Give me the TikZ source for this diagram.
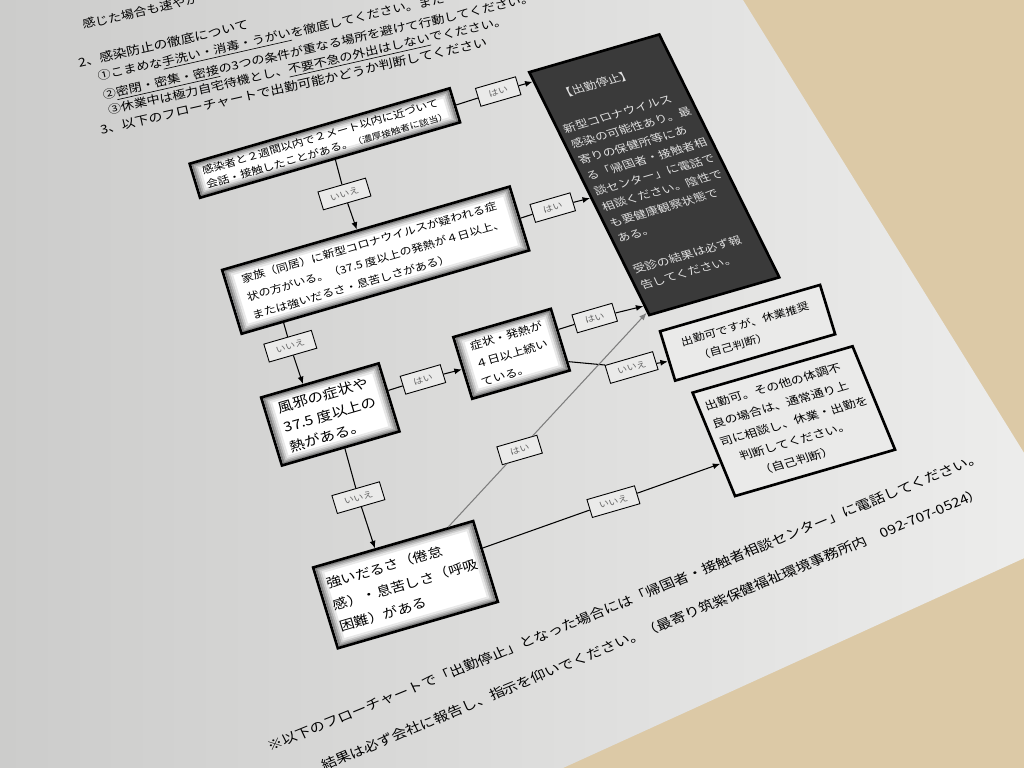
\documentclass[tikz,border=0pt]{standalone}
\usepackage{fontspec}
\setmainfont{Noto Sans CJK JP}
\usetikzlibrary{positioning,arrows.meta,calc}
\definecolor{desk}{RGB}{220,201,166}
\definecolor{paperdark}{RGB}{204,204,203}
\definecolor{paperlight}{RGB}{238,238,237}
\definecolor{boxfill}{RGB}{234,234,233}
\definecolor{stopgray}{RGB}{58,58,58}
\definecolor{linkgray}{RGB}{125,125,125}
\pgfdeclarelayer{glow}
\pgfsetlayers{glow,main}
\tikzset{
  qbox/.style={draw, line width=1.5pt, align=left, anchor=north west, inner sep=1mm},
  rbox/.style={draw, line width=1.5pt, fill=boxfill, align=left, anchor=north west, inner sep=0.8mm},
  stopbox/.style={draw, line width=1.5pt, fill=stopgray, text=white!88!black, align=left, anchor=north west, inner sep=0.8mm},
  lab/.style={draw, line width=0.5pt, fill=boxfill, text=black!60, minimum height=0.42cm, inner sep=0.5mm, font=\fontsize{5.4}{6}\selectfont},
  yeslab/.style={lab, minimum width=0.8cm},
  nolab/.style={lab, minimum width=0.95cm},
  glowring/.style={line width=1.2pt, inner sep=0pt, outer sep=0pt},
  link/.style={line width=0.6pt},
  arrow/.style={line width=0.6pt, -{Latex[length=1.5mm,width=1.2mm]}},
  grayarrow/.style={arrow, linkgray},
  toptext/.style={anchor=west, inner sep=0pt, rotate=-4, font=\fontsize{7.2}{9}\selectfont},
  foottext/.style={anchor=west, inner sep=0pt, font=\fontsize{8.3}{10}\selectfont}
}
\begin{document}
\begin{tikzpicture}
  \useasboundingbox (0,-15.36) rectangle (20.48,0);
  % desk and sheet
  \begin{pgfonlayer}{glow}
    \fill[desk] (0,-15.36) rectangle (20.48,0);
    \shade[left color=paperdark, right color=paperlight] (0,0) -- (14.86,0) -- (21.5,-10.7) -- (11.26,-15.36) -- (0,-15.36) -- cycle;
  \end{pgfonlayer}
  \begin{scope}[cm={1,0.29,-0.26,0.85,(3.76,-3.26)}, every node/.append style={transform shape}]
    % text of the sheet
    \node[toptext] (t0) at (-1.17,3.65) {感じた場合も速やか};
    \node[toptext, font=\fontsize{7.6}{9}\selectfont] (t1) at (-1.46,2.85) {2、感染防止の徹底について};
    \node[toptext] (t2) at (-1.18,2.40) {①こまめな\underline{手洗い・消毒・うがい}を徹底してください。また};
    \node[toptext] (t3) at (-1.19,1.96) {②\underline{密閉・密集・密接}の3つの条件が重なる場所を避けて行動してください。};
    \node[toptext] (t4) at (-1.18,1.60) {③休業中は極力自宅待機とし、\underline{不要不急の外出はしない}でください。};
    \node[toptext, font=\fontsize{7.6}{9}\selectfont] (t5) at (-1.43,1.27) {3、以下のフローチャートで出勤可能かどうか判断してください};

    % flowchart boxes
    \node[qbox, minimum width=5.2cm, minimum height=0.8cm, font=\fontsize{6.4}{9.5}\selectfont] (contact) at (0,0) {感染者と２週間以内で２メート以内に近づいて\\会話・接触したことがある。{\fontsize{5.4}{9.5}\selectfont（濃厚接触者に該当）}};
    \node[qbox, minimum width=5.75cm, minimum height=1.5cm, font=\fontsize{6.6}{12}\selectfont] (family) at (0,-2.5) {家族（同居）に新型コロナウイルスが疑われる症\\状の方がいる。（37.5 度以上の発熱が４日以上、\\または強いだるさ・息苦しさがある）};
    \node[qbox, minimum width=2.35cm, minimum height=1.6cm, font=\fontsize{8.5}{13}\selectfont] (cold) at (0,-5.5) {風邪の症状や\\37.5 度以上の\\熱がある。};
    \node[qbox, minimum width=1.95cm, minimum height=1.45cm, font=\fontsize{6.8}{12}\selectfont] (fourdays) at (3.87,-5.4) {症状・発熱が\\４日以上続い\\ている。};
    \node[qbox, minimum width=3.2cm, minimum height=1.9cm, font=\fontsize{8.2}{14.5}\selectfont, inner sep=0.8mm] (severe) at (0,-9.5) {強いだるさ（倦怠\\感）・息苦しさ（呼吸\\困難）がある};
    \node[stopbox, xslant=-0.14, minimum width=2.6cm, minimum height=6cm, font=\fontsize{6.8}{11}\selectfont] (stop) at (6.75,-0.15) {\hspace{1em}【出勤停止】\\[11pt]新型コロナウイルス\\感染の可能性あり。最\\寄りの保健所等にあ\\る「帰国者・接触者相\\談センター」に電話で\\相談ください。陰性で\\も要健康観察状態で\\ある。\\[11pt]受診の結果は必ず報\\告してください。};
    \node[rbox, minimum width=3.2cm, minimum height=1.16cm, font=\fontsize{6.6}{11.5}\selectfont] (restwork) at (7.7,-6.57) {出勤可ですが、休業推奨\\\hspace{1em}（自己判断）};
    \node[rbox, xslant=-0.08, minimum width=3.2cm, minimum height=2.5cm, font=\fontsize{7}{12.5}\selectfont] (okwork) at (7.95,-8.1) {出勤可。その他の体調不\\良の場合は、通常通り上\\司に相談し、休業・出勤を\\\hspace{1em}判断してください。\\\hspace{2em}（自己判断）};

    % ports on the box edges
    \coordinate (pa) at ($(contact.south west)!0.519!(contact.south east)$);
    \coordinate (pb) at ($(family.north west)!0.47!(family.north east)$);
    \coordinate (pc) at ($(family.south west)!0.148!(family.south east)$);
    \coordinate (pd) at ($(cold.north west)!0.362!(cold.north east)$);
    \coordinate (pe) at ($(cold.north east)!0.406!(cold.south east)$);
    \coordinate (pf) at ($(fourdays.north west)!0.517!(fourdays.south west)$);
    \coordinate (pg) at ($(fourdays.north east)!0.345!(fourdays.south east)$);
    \coordinate (ph) at ($(fourdays.north east)!0.85!(fourdays.south east)$);
    \coordinate (pn) at ($(restwork.north west)!0.6!(restwork.south west)$);
    \coordinate (pi) at ($(cold.south west)!0.532!(cold.south east)$);
    \coordinate (pj) at ($(severe.north west)!0.39!(severe.north east)$);
    \coordinate (pk) at ($(severe.north east)!0.342!(severe.south east)$);
    \coordinate (pl) at ($(okwork.north west)!0.68!(okwork.south west)$);
    \coordinate (pm) at ($(severe.north west)!0.84!(severe.north east)$);
    \coordinate (ks1) at ($(stop.north west)!0.042!(stop.south west)$);
    \coordinate (ks2) at ($(stop.north west)!0.517!(stop.south west)$);
    \coordinate (ks3) at ($(stop.north west)!0.958!(stop.south west)$);
    \coordinate (ks4) at ($(stop.north west)!0.985!(stop.south west)$);

    % yes / no tags
    \node[yeslab] (y1) at (6.1,-0.4) {はい};
    \node[nolab] (n1) at (2.7,-1.65) {いいえ};
    \node[yeslab] (y2) at (6.45,-3.25) {はい};
    \node[nolab] (n2) at (0.85,-4.6) {いいえ};
    \node[yeslab] (y3) at (3.1,-6.15) {はい};
    \node[yeslab] (y4) at (6.6,-5.9) {はい};
    \node[nolab] (n3) at (7.0,-7.2) {いいえ};
    \node[yeslab] (y5) at ($(pm)!0.36!(ks4)$) {はい};
    \node[nolab] (n4) at (1.25,-8.3) {いいえ};
    \node[nolab] (n5) at ($(pk)!0.55!(pl)$) {いいえ};

    \foreach \a/\b/\c in {contact.east/y1/ks1, pa/n1/pb, family.east/y2/ks2, pc/n2/pd, pe/y3/pf, pg/y4/ks3, ph/n3/pn, pi/n4/pj, pk/n5/pl}{\draw[link] (\a) -- (\b); \draw[arrow] (\b) -- (\c);}
    \draw[link, linkgray] (pm) -- (y5);
    \draw[grayarrow] (y5) -- (ks4);

    % shaded rim inside the question boxes
    \begin{pgfonlayer}{glow}
      \foreach \nm/\w/\h in {contact/5.2/0.8, family/5.75/1.5, cold/2.35/1.6, fourdays/1.95/1.45, severe/3.2/1.9}{
        \node[fill=white, inner sep=0pt, minimum width=\w cm, minimum height=\h cm] (\nm-bg) at (\nm.center) {};
        \foreach \dd/\gl [count=\i] in {0.05/48,0.085/33,0.12/20,0.155/9}
          \node[glowring, draw=black!\gl, minimum width=\w cm-2*\dd cm, minimum height=\h cm-2*\dd cm] (\nm-glow\i) at (\nm.center) {};
      }
    \end{pgfonlayer}

    % note under the chart
    \node[foottext, rotate=7] (b1) at (-1.81,-13.13) {※以下のフローチャートで「出勤停止」となった場合には「帰国者・接触者相談センター」に電話してください。};
    \node[foottext, rotate=7.5] (b2) at (-0.93,-13.88) {結果は必ず会社に報告し、指示を仰いでください。（最寄り筑紫保健福祉環境事務所内　092-707-0524）};
  \end{scope}
\end{tikzpicture}
\end{document}
